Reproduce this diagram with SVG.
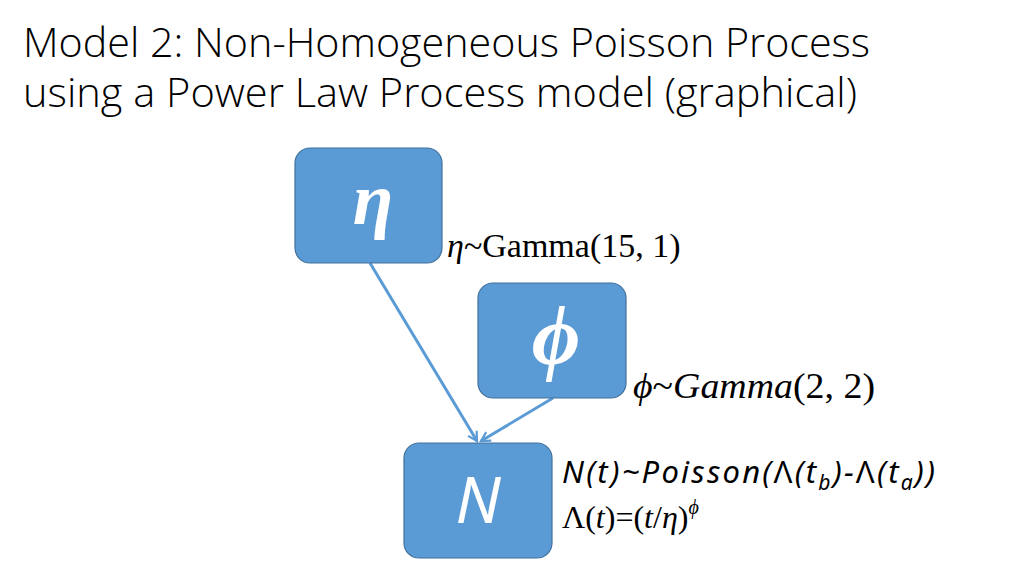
<svg xmlns="http://www.w3.org/2000/svg" width="1024" height="576" viewBox="0 0 1024 576">
<defs>
<style>
.box{fill:#5B9BD5;stroke:#41719C;stroke-width:1.2}
.edge{stroke:#5B9BD5;stroke-width:3;fill:none}
.title{font-family:"Open Sans","Noto Sans",sans-serif;font-weight:300;font-size:40px;fill:#000}
.serif{font-family:"Liberation Serif","DejaVu Serif",serif;fill:#000}
.sans{font-family:"Noto Sans","Open Sans",sans-serif;fill:#000}
.glyph{fill:#fff}
</style>
<marker id="arr" viewBox="0 0 12 12" refX="10" refY="6" markerWidth="12" markerHeight="12" markerUnits="userSpaceOnUse" orient="auto">
<path d="M1,1 L10,6 L1,11" fill="none" stroke="#5B9BD5" stroke-width="2.2"/>
</marker>
</defs>
<rect width="1024" height="576" fill="#fff"/>
<g id="title">
<text class="title" x="23" y="57" textLength="847" lengthAdjust="spacingAndGlyphs">Model 2: Non-Homogeneous Poisson Process</text>
<text class="title" x="23" y="107" textLength="834" lengthAdjust="spacingAndGlyphs">using a Power Law Process model (graphical)</text>
</g>
<g id="connectors">
<line class="edge" x1="370" y1="263" x2="477" y2="441" marker-end="url(#arr)"/>
<line class="edge" x1="553" y1="398" x2="481" y2="441" marker-end="url(#arr)"/>
</g>
<g id="node-eta">
<rect class="box" x="295" y="148" width="147" height="115" rx="15"/>
<text class="serif glyph" x="373" y="224" font-size="74" font-style="italic" font-weight="bold" text-anchor="middle">η</text>
<text class="serif" x="447" y="257" font-size="34"><tspan font-style="italic">η</tspan>~Gamma(15, 1)</text>
</g>
<g id="node-phi">
<rect class="box" x="478" y="283" width="148" height="115" rx="15"/>
<text class="serif glyph" x="556" y="364" font-size="84" font-style="italic" font-weight="bold" text-anchor="middle">ϕ</text>
<text class="serif" x="633" y="398" font-size="36" textLength="242" lengthAdjust="spacingAndGlyphs"><tspan font-style="italic">ϕ</tspan>~<tspan font-style="italic">Gamma</tspan>(2, 2)</text>
</g>
<g id="node-N">
<rect class="box" x="404" y="443" width="148" height="115" rx="15"/>
<text class="sans glyph" x="478" y="523" font-size="64" font-style="italic" text-anchor="middle">N</text>
<text class="sans" x="562" y="483" font-size="31" font-style="italic" textLength="373" lengthAdjust="spacing">N(t)~Poisson(<tspan font-style="normal">Λ</tspan>(t<tspan font-size="21" dy="7">b</tspan><tspan dy="-7">)−</tspan><tspan font-style="normal">Λ</tspan>(t<tspan font-size="21" dy="7">a</tspan><tspan dy="-7">))</tspan></text>
<text class="serif" x="562" y="528" font-size="32">Λ(<tspan font-style="italic">t</tspan>)=(<tspan font-style="italic">t</tspan>/<tspan font-style="italic">η</tspan>)<tspan font-size="20" dy="-14" font-style="italic">ϕ</tspan></text>
</g>
</svg>
